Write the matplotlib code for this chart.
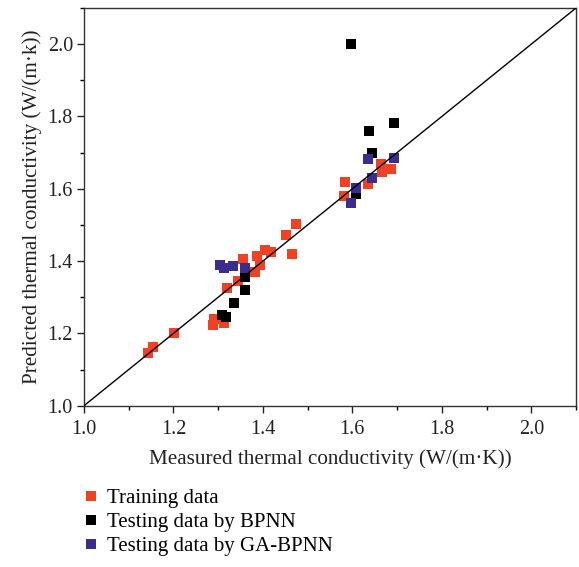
import matplotlib
matplotlib.use("Agg")
import matplotlib.pyplot as plt
from matplotlib.lines import Line2D
from matplotlib.ticker import MultipleLocator, FormatStrFormatter

plt.rcParams['font.family'] = ['Liberation Serif', 'DejaVu Serif']

train_x = [1.144, 1.154, 1.202, 1.289, 1.291, 1.313, 1.319, 1.345, 1.356, 1.382, 1.386, 1.393,
           1.404, 1.419, 1.464, 1.451, 1.474, 1.582, 1.583, 1.634, 1.665, 1.667, 1.686]
train_y = [1.147, 1.161, 1.202, 1.223, 1.239, 1.228, 1.325, 1.346, 1.405, 1.371, 1.414, 1.389,
           1.432, 1.426, 1.419, 1.472, 1.502, 1.580, 1.618, 1.613, 1.668, 1.647, 1.654]

bp_x = [1.308, 1.317, 1.335, 1.360, 1.360, 1.597, 1.609, 1.637, 1.645, 1.693]
bp_y = [1.251, 1.244, 1.283, 1.320, 1.355, 2.000, 1.585, 1.759, 1.698, 1.782]

ga_x = [1.305, 1.313, 1.334, 1.360, 1.598, 1.609, 1.634, 1.645, 1.693]
ga_y = [1.389, 1.380, 1.386, 1.380, 1.562, 1.601, 1.681, 1.631, 1.684]

labels = ['Training data', 'Testing data by BPNN', 'Testing data by GA-BPNN']
colors = ['#EF4123', '#000000', '#3A2D8E']

fig = plt.figure(figsize=(5.79, 5.67), dpi=100)
ax = fig.add_axes([84/579, 1-405.7/567, (576-84)/579, (405.7-8)/567])

ms = 52
ax.scatter(train_x, train_y, marker='s', s=ms, color=colors[0], linewidths=0, zorder=2)
ax.scatter(bp_x, bp_y, marker='s', s=ms, color=colors[1], linewidths=0, zorder=2)
ax.scatter(ga_x, ga_y, marker='s', s=ms, color=colors[2], linewidths=0, zorder=2)
ax.plot([1.0, 2.1], [1.0, 2.1], color='black', lw=1.0, zorder=3)

ax.set_xlim(1.0, 2.1)
ax.set_ylim(1.0, 2.1)
ax.xaxis.set_major_locator(MultipleLocator(0.2))
ax.xaxis.set_minor_locator(MultipleLocator(0.1))
ax.yaxis.set_major_locator(MultipleLocator(0.2))
ax.yaxis.set_minor_locator(MultipleLocator(0.1))
ax.xaxis.set_major_formatter(FormatStrFormatter('%.1f'))
ax.yaxis.set_major_formatter(FormatStrFormatter('%.1f'))
ax.tick_params(which='major', direction='out', length=5, width=1, labelsize=14.5, colors='#222222')
ax.tick_params(axis='x', which='major', pad=5)
ax.tick_params(axis='y', which='major', pad=3)
ax.tick_params(which='minor', direction='out', length=3, width=1)
for s in ax.spines.values():
    s.set_linewidth(1.0)
    s.set_color('#333333')

ax.set_xlabel('Measured thermal conductivity (W/(m·K))', fontsize=15.2, color='#222222', labelpad=8)
ax.set_ylabel('Predicted thermal conductivity (W/(m·k))', fontsize=15.2, color='#222222', labelpad=4)

handles = [Line2D([], [], marker='s', linestyle='none', markersize=6.5, color=c, markeredgewidth=0) for c in colors]
fig.legend(handles, labels, loc='upper left', bbox_to_anchor=(0.124, 1 - 480/567),
           bbox_transform=fig.transFigure, frameon=False,
           fontsize=15, handletextpad=0.3, labelspacing=0.22, handlelength=1.0, borderaxespad=0)

fig.savefig('out.png', dpi=100)
